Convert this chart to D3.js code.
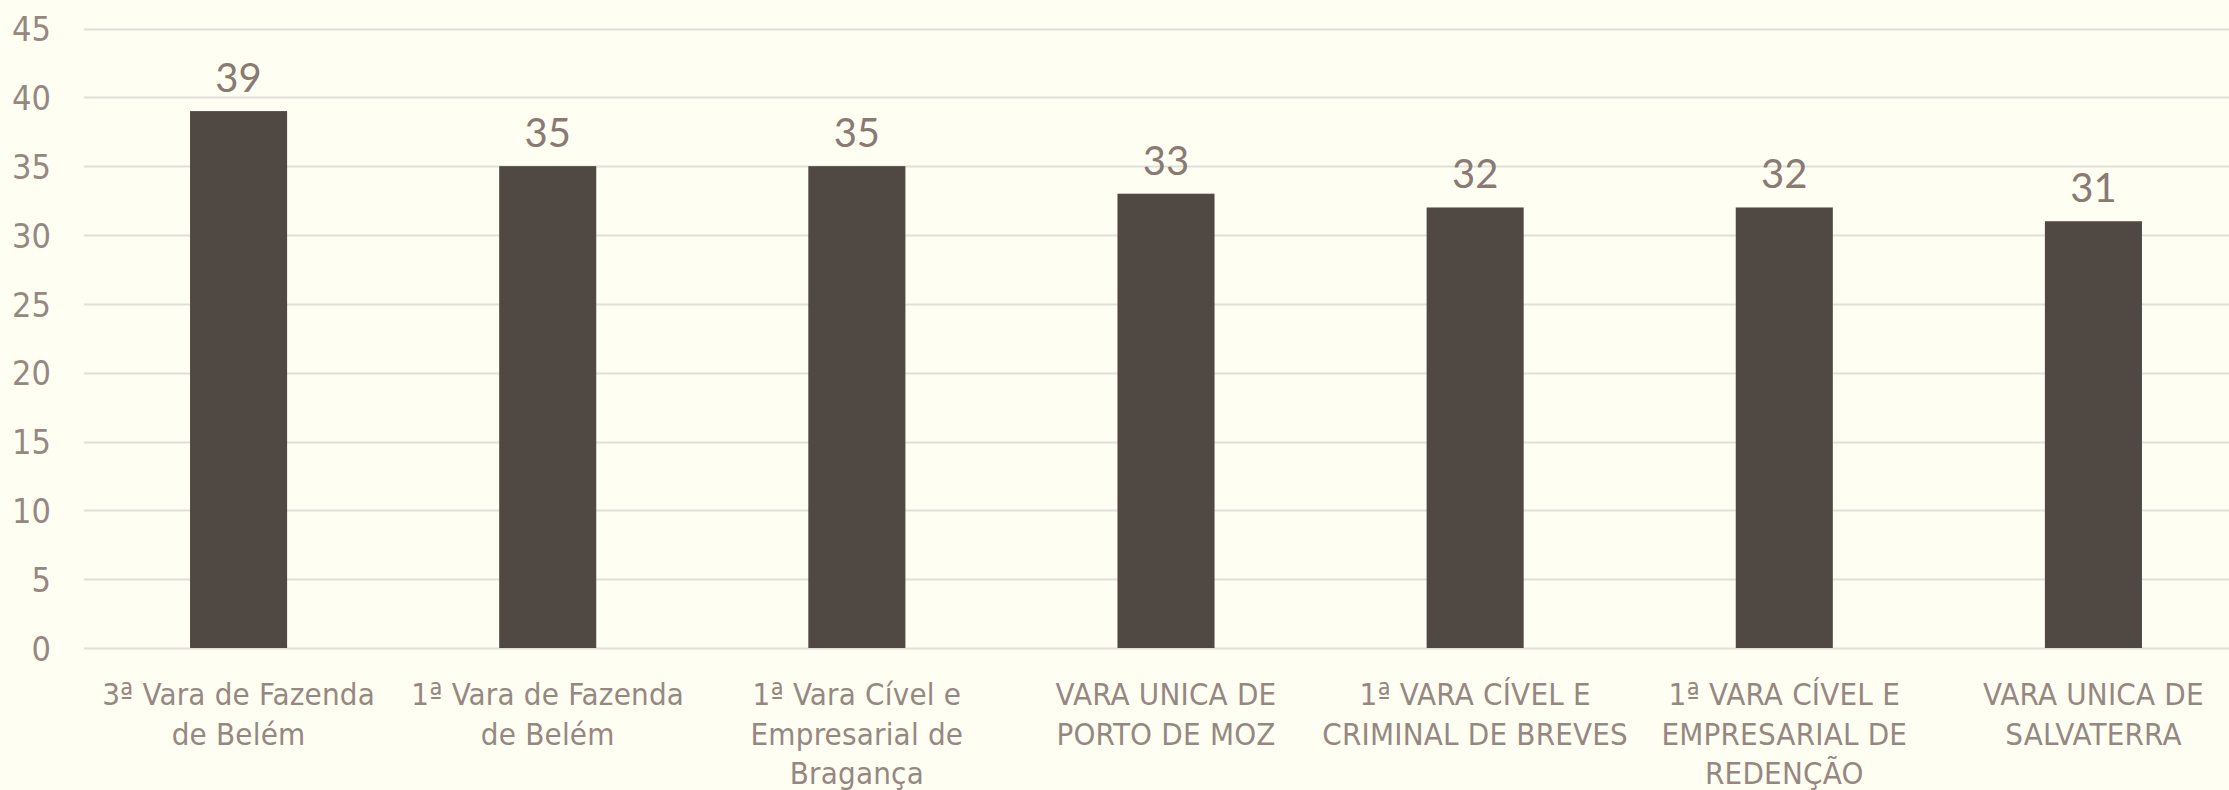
<!DOCTYPE html>
<html><head><meta charset="utf-8">
<script src="https://cdn.jsdelivr.net/npm/d3@7"></script>
<style>
html,body{margin:0;padding:0;background:#FFFEF3;}
svg{display:block;}
</style></head>
<body>
<svg id="chart" width="2229" height="790"></svg>
<script>
const categories = [
  ["3ª Vara de Fazenda", "de Belém"],
  ["1ª Vara de Fazenda", "de Belém"],
  ["1ª Vara Cível e", "Empresarial de", "Bragança"],
  ["VARA UNICA DE", "PORTO DE MOZ"],
  ["1ª VARA CÍVEL E", "CRIMINAL DE BREVES"],
  ["1ª VARA CÍVEL E", "EMPRESARIAL DE", "REDENÇÃO"],
  ["VARA UNICA DE", "SALVATERRA"]
];
const values = [39, 35, 35, 33, 32, 32, 31];
const yTicks = [0, 5, 10, 15, 20, 25, 30, 35, 40, 45];

const W = 2229, H = 790;
const svg = d3.select("#chart");
svg.append("rect").attr("width", W).attr("height", H).attr("fill", "#FFFEF3");

const plotLeft = 84, plotRight = 2248, plotTop = 28.5, plotBottom = 648;
const keys = categories.map((c, i) => i);
const x = d3.scaleBand().domain(keys).range([plotLeft, plotRight]).paddingInner(0.686).paddingOuter(0.343);
const y = d3.scaleLinear().domain([0, 45]).range([plotBottom, plotTop]);

const textColor = "#968880";
const labelFont = "'Liberation Sans Narrow','DejaVu Sans Condensed','Roboto Condensed',sans-serif";

// gridlines
svg.append("g").selectAll("line").data(yTicks).join("line")
  .attr("x1", plotLeft).attr("x2", W)
  .attr("y1", d => Math.round(y(d)) + 0.5).attr("y2", d => Math.round(y(d)) + 0.5)
  .attr("stroke", "#E2DFDA").attr("stroke-width", 2);

// y axis labels
const yAxis = d3.axisLeft(y).tickValues(yTicks).tickSize(0).tickPadding(0);
const yg = svg.append("g").attr("transform", `translate(51,0)`).call(yAxis);
yg.select(".domain").remove();
yg.selectAll("text").attr("fill", textColor).attr("font-size", 34)
  .attr("font-family", labelFont).attr("dy", "0.36em");

// bars
svg.append("g").selectAll("rect").data(values).join("rect")
  .attr("x", (d, i) => x(i)).attr("width", x.bandwidth())
  .attr("y", d => y(d)).attr("height", d => plotBottom - y(d))
  .attr("fill", "#504843");

// data labels
svg.append("g").selectAll("text").data(values).join("text")
  .attr("x", (d, i) => x(i) + x.bandwidth() / 2)
  .attr("y", d => y(d) - 19)
  .attr("text-anchor", "middle")
  .attr("font-family", "Lato, 'Open Sans', sans-serif")
  .attr("font-size", 40)
  .attr("fill", "#8A7A71")
  .text(d => d);

// x axis labels
const xAxis = d3.axisBottom(x).tickSize(0).tickFormat(() => "");
const xg = svg.append("g").attr("transform", `translate(0,${plotBottom})`).call(xAxis);
xg.select(".domain").remove();
xg.selectAll(".tick").each(function(d) {
  const t = d3.select(this).append("text")
    .attr("text-anchor", "middle")
    .attr("font-family", labelFont)
    .attr("font-size", 31)
    .attr("letter-spacing", 0.2)
    .attr("fill", textColor);
  categories[d].forEach((line, j) => {
    t.append("tspan").attr("x", 0).attr("y", 57 + j * 39.5).text(line);
  });
});
</script>
</body></html>
